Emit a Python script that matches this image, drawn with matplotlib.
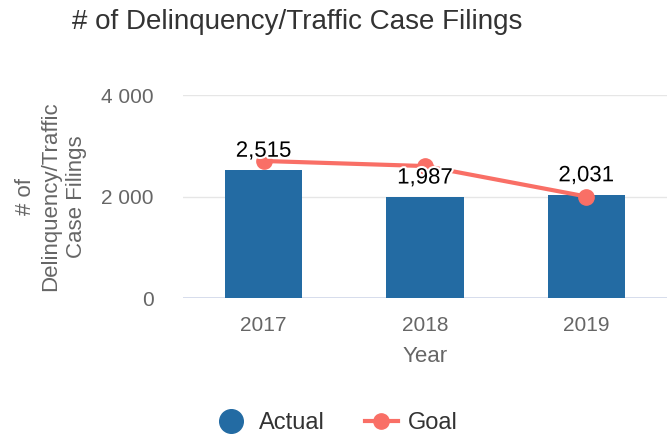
import matplotlib.pyplot as plt
import matplotlib.patheffects as pe
from matplotlib.lines import Line2D

# data
years = ['2017', '2018', '2019']
actual = [2515, 1987, 2031]
goal = [2700, 2600, 2000]
y_ticks = [0, 2000, 4000]

BAR = '#236ba3'
GOAL = '#f96f66'
TXT = '#666666'

plt.rcParams['font.family'] = ['Liberation Sans', 'DejaVu Sans']

fig = plt.figure(figsize=(6.69, 4.38), dpi=100)
ax = fig.add_axes([0.2735, 0.3196, 0.7235, 0.4635])

x = range(len(years))
ax.bar(x, actual, width=0.48, color=BAR, zorder=2)
ax.plot(x, goal, color=GOAL, lw=3, marker='o', ms=11, zorder=3)

for i, v in enumerate(actual):
    ax.text(i, v + 170, f'{v:,}', ha='center', va='bottom', fontsize=16,
            color='black', zorder=4,
            path_effects=[pe.withStroke(linewidth=3, foreground='white')])

ax.set_xlim(-0.5, 2.5)
ax.set_ylim(0, 4000)
ax.set_xticks(list(x))
ax.set_xticklabels(years, fontsize=15, color=TXT)
ax.set_yticks(y_ticks)
ax.set_yticklabels([f'{t:,}'.replace(',', ' ') for t in y_ticks], fontsize=15, color=TXT)
ax.tick_params(axis='both', length=0)
ax.tick_params(axis='x', pad=13)
ax.tick_params(axis='y', pad=21)
ax.grid(axis='y', color='#e6e6e6', lw=1, zorder=0)
for s in ax.spines.values():
    s.set_visible(False)
ax.axhline(0, color='#ccd6eb', lw=1.2, zorder=1)

ax.set_xlabel('Year', fontsize=16, color=TXT, labelpad=8)
ax.set_ylabel('# of\nDelinquency/Traffic\nCase Filings', fontsize=16, color=TXT,
              labelpad=10, linespacing=1.3)

fig.text(0.108, 0.95, '# of Delinquency/Traffic Case Filings', fontsize=20,
         color='#333333', ha='left', va='center')

handles = [
    Line2D([], [], ls='none', marker='o', ms=17, color=BAR),
    Line2D([], [], color=GOAL, lw=3, marker='o', ms=11),
]
fig.legend(handles, ['Actual', 'Goal'], loc='center', bbox_to_anchor=(0.503, 0.034),
           ncol=2, frameon=False, fontsize=17, labelcolor='#333333',
           handlelength=1.4, columnspacing=1.7, handletextpad=0.45)

fig.savefig('out.png', dpi=100)
